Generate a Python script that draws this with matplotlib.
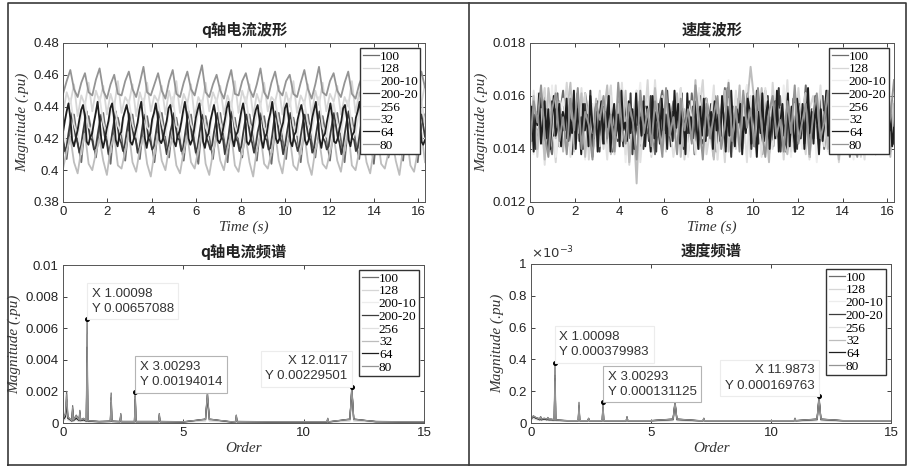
import numpy as np
import matplotlib
matplotlib.use("Agg")
import matplotlib.pyplot as plt
from matplotlib.lines import Line2D

plt.rcParams["font.family"] = ["Liberation Sans", "Noto Sans CJK SC"]

# legend order = plotting order
wave_labels = ["100", "128", "200-10", "200-20", "256", "32", "64", "80"]
wave_colors = ["#6c6c6c", "#d6d6d6", "#ededed", "#3c3c3c", "#e0e0e0", "#bdbdbd", "#1e1e1e", "#949494"]

wave_t_end = 16.3  # seconds

# q-axis current waveform, units of 1e-3 pu
iq_wave = [
    [420, 407, 428, 435, 418, 405, 429, 434, 421, 408, 427, 436, 419, 404, 430, 433, 422, 406, 428, 435,
     418, 407, 429, 434, 420, 405, 427, 436, 421, 408, 430, 433, 419, 406, 428, 435, 417, 404, 429, 434,
     422, 407, 427, 436, 420, 405, 430, 433, 418, 408, 428, 435, 421, 406, 429, 434, 419, 404, 427, 436,
     420, 407, 430, 433, 422, 405, 428, 435, 418, 408, 429, 434, 421, 406, 427, 436, 419, 405, 430, 433,
     418, 407, 428, 435, 420, 404, 429, 434, 422, 408, 427, 436, 419, 406, 430, 433, 421, 405, 428, 435],
    [436, 449, 442, 454, 434, 447, 441, 455, 437, 450, 443, 453, 435, 448, 440, 456, 436, 446, 442, 454,
     434, 449, 441, 455, 437, 447, 443, 453, 435, 450, 440, 456, 436, 448, 442, 454, 433, 446, 441, 455,
     437, 449, 443, 453, 435, 447, 440, 456, 436, 450, 442, 454, 434, 448, 441, 455, 437, 446, 443, 453,
     435, 449, 440, 456, 436, 447, 442, 454, 434, 450, 441, 455, 437, 448, 443, 453, 435, 446, 440, 456,
     436, 449, 442, 454, 434, 447, 441, 455, 437, 450, 443, 453, 435, 448, 440, 456, 436, 446, 442, 454],
    [428, 413, 436, 421, 426, 410, 438, 419, 429, 414, 435, 422, 427, 411, 439, 420, 430, 412, 437, 418,
     426, 414, 436, 421, 428, 410, 438, 419, 427, 413, 435, 422, 429, 411, 439, 420, 425, 412, 437, 418,
     430, 413, 436, 421, 426, 414, 438, 419, 428, 410, 435, 422, 427, 412, 439, 420, 429, 411, 437, 418,
     427, 414, 436, 421, 430, 410, 438, 419, 426, 413, 435, 422, 428, 411, 439, 420, 429, 412, 437, 418,
     426, 413, 436, 421, 428, 414, 438, 419, 430, 410, 435, 422, 427, 412, 439, 420, 428, 411, 437, 418],
    [418, 412, 415, 423, 430, 436, 428, 421, 417, 411, 416, 424, 431, 437, 427, 420, 419, 413, 414, 422,
     429, 435, 429, 421, 418, 410, 415, 423, 430, 437, 428, 420, 417, 412, 416, 424, 431, 436, 427, 421,
     419, 411, 414, 422, 430, 435, 429, 420, 418, 413, 415, 423, 431, 437, 428, 421, 417, 410, 416, 424,
     429, 436, 427, 420, 419, 412, 414, 422, 430, 437, 429, 421, 418, 411, 415, 423, 431, 435, 428, 420,
     417, 413, 416, 424, 430, 436, 427, 421, 419, 410, 414, 422, 431, 437, 429, 420, 418, 412, 415, 423,
     430, 435, 428, 421, 417, 411, 416, 424, 429, 436, 427, 420, 419, 413, 414, 422, 431, 437, 429, 421,
     418, 410, 415, 423, 430, 436, 428, 420, 417, 412, 416, 424, 431, 435, 427, 421, 419, 411, 414, 422,
     429, 437, 429, 420, 418, 413, 415, 423, 430, 436, 428, 421, 417, 410, 416, 424, 431, 437, 427, 420,
     419, 412, 414, 422, 430, 435, 429, 421, 418, 411, 415, 423, 431, 436, 428, 420, 417, 413, 416, 424,
     429, 437, 427, 421, 419, 410, 414, 422, 430, 436, 429, 420, 418, 412, 415, 423, 431, 435, 428, 421],
    [424, 437, 445, 429, 421, 435, 443, 427, 425, 438, 446, 430, 422, 436, 442, 428, 423, 439, 444, 429,
     421, 437, 445, 427, 424, 435, 443, 430, 422, 438, 446, 428, 425, 436, 442, 429, 423, 437, 444, 427,
     422, 439, 445, 430, 424, 436, 443, 428, 421, 437, 446, 429, 425, 435, 442, 427, 423, 438, 444, 430,
     424, 436, 445, 428, 422, 439, 443, 429, 425, 437, 446, 427, 421, 435, 442, 430, 424, 438, 444, 428,
     423, 437, 445, 429, 421, 436, 443, 427, 424, 438, 446, 430, 422, 435, 442, 428, 425, 439, 444, 429],
    [401, 412, 421, 405, 398, 413, 423, 404, 400, 411, 420, 406, 397, 414, 422, 403, 401, 412, 424, 405,
     399, 413, 421, 404, 396, 411, 423, 406, 400, 414, 420, 403, 398, 412, 422, 405, 401, 413, 425, 404,
     397, 411, 421, 406, 400, 414, 423, 403, 399, 412, 420, 405, 396, 413, 422, 404, 401, 411, 424, 406,
     398, 414, 421, 403, 400, 412, 423, 405, 397, 413, 420, 404, 401, 411, 422, 406, 399, 414, 425, 403,
     400, 412, 421, 405, 398, 413, 423, 404, 401, 411, 420, 406, 397, 414, 422, 403, 399, 412, 424, 405],
    [424, 431, 437, 442, 433, 419, 415, 420, 425, 432, 438, 441, 434, 418, 416, 421, 423, 430, 436, 443,
     432, 420, 414, 419, 426, 431, 439, 442, 433, 419, 415, 422, 424, 433, 437, 441, 435, 418, 416, 420,
     425, 430, 438, 443, 432, 420, 414, 421, 423, 432, 436, 442, 434, 419, 417, 420, 426, 431, 439, 441,
     433, 418, 415, 422, 424, 430, 437, 443, 435, 420, 416, 419, 425, 433, 438, 442, 432, 418, 414, 421,
     423, 431, 436, 441, 434, 419, 417, 420, 426, 432, 439, 443, 433, 420, 415, 422, 424, 430, 437, 442,
     435, 418, 416, 419, 425, 433, 438, 441, 432, 419, 414, 421, 423, 431, 436, 443, 434, 420, 417, 420,
     426, 430, 439, 442, 433, 418, 415, 422, 424, 432, 437, 441, 435, 419, 416, 419, 425, 433, 438, 443,
     432, 420, 414, 421, 423, 430, 436, 442, 434, 418, 417, 420, 426, 431, 439, 441, 433, 419, 415, 422,
     424, 433, 437, 443, 435, 420, 416, 419, 425, 430, 438, 442, 432, 418, 414, 421, 423, 432, 436, 441,
     434, 419, 417, 420, 426, 431, 439, 443, 433, 420, 415, 422, 424, 430, 437, 442, 435, 418, 416, 419],
    [448, 456, 463, 451, 446, 455, 461, 449, 447, 457, 464, 450, 445, 454, 460, 448, 447, 456, 462, 451,
     446, 455, 465, 449, 447, 454, 461, 450, 445, 456, 463, 448, 446, 455, 462, 451, 447, 457, 466, 449,
     446, 454, 460, 450, 445, 455, 463, 448, 447, 456, 461, 451, 446, 454, 464, 449, 445, 455, 462, 450,
     447, 456, 460, 448, 446, 455, 463, 451, 445, 454, 465, 449, 447, 456, 461, 450, 446, 455, 462, 448,
     445, 454, 460, 451, 447, 456, 463, 449, 446, 455, 461, 450, 445, 457, 464, 448, 446, 455, 462, 452],
]

# speed waveform, units of 1e-4 pu
speed_wave = [
    [149, 157, 141, 153, 160, 144, 138, 155, 151, 162, 146, 140, 158, 148, 143, 161, 152, 137, 156, 147,
     154, 142, 159, 145, 150, 163, 139, 153, 148, 157, 141, 160, 146, 152, 138, 155, 162, 144, 149, 158,
     143, 156, 151, 139, 161, 147, 154, 142, 159, 150, 137, 157, 145, 163, 148, 140, 153, 160, 146, 151,
     158, 141, 155, 149, 162, 138, 152, 145, 160, 143, 156, 150, 139, 157, 147, 164, 142, 154, 148, 159,
     140, 153, 146, 161, 151, 144, 158, 137, 155, 149, 162, 143, 150, 156, 141, 159, 147, 153, 139, 156],
    [146, 160, 137, 155, 163, 141, 152, 135, 158, 149, 165, 143, 139, 157, 150, 161, 136, 154, 147, 162,
     140, 156, 164, 138, 151, 145, 159, 134, 153, 162, 142, 148, 166, 137, 155, 150, 160, 139, 157, 144,
     152, 163, 136, 149, 158, 141, 155, 166, 138, 147, 160, 143, 153, 135, 162, 151, 140, 157, 146, 164,
     137, 154, 161, 145, 150, 139, 165, 148, 156, 136, 159, 152, 142, 163, 147, 138, 155, 160, 144, 151,
     158, 140, 153, 164, 135, 149, 157, 143, 161, 150, 137, 156, 145, 162, 139, 153, 148, 166, 141, 155],
    [150, 138, 161, 145, 156, 142, 164, 137, 153, 159, 140, 148, 162, 144, 155, 136, 158, 151, 141, 160,
     147, 163, 139, 154, 149, 160, 135, 157, 144, 152, 165, 141, 150, 138, 159, 146, 156, 162, 143, 153,
     161, 142, 155, 137, 158, 148, 163, 140, 151, 145, 160, 136, 154, 149, 166, 139, 157, 143, 152, 164,
     144, 157, 150, 162, 138, 153, 146, 159, 141, 164, 149, 137, 156, 152, 140, 161, 147, 155, 135, 158,
     155, 139, 160, 147, 151, 165, 142, 154, 136, 158, 145, 162, 149, 138, 156, 143, 161, 150, 140, 153],
    [151, 143, 157, 140, 154, 148, 160, 142, 146, 155, 139, 152, 158, 145, 149, 161, 141, 153, 147, 156,
     144, 159, 150, 138, 155, 147, 161, 143, 152, 140, 157, 149, 145, 162, 141, 154, 148, 158, 139, 151,
     156, 142, 153, 160, 146, 139, 155, 150, 143, 159, 148, 141, 157, 152, 144, 161, 138, 154, 149, 145,
     158, 147, 140, 156, 151, 143, 160, 145, 153, 139, 157, 149, 142, 155, 146, 162, 150, 141, 154, 148,
     143, 155, 149, 161, 140, 152, 146, 158, 144, 156, 138, 153, 150, 160, 142, 147, 159, 145, 151, 157,
     147, 160, 139, 154, 145, 158, 151, 141, 163, 148, 137, 156, 143, 152, 159, 146, 140, 155, 149, 161,
     153, 140, 157, 146, 162, 142, 150, 138, 155, 149, 160, 144, 152, 141, 158, 147, 163, 139, 154, 145,
     139, 156, 148, 143, 159, 151, 140, 157, 146, 154, 142, 161, 149, 137, 155, 144, 160, 152, 141, 158,
     160, 145, 153, 141, 156, 139, 158, 147, 150, 162, 143, 155, 140, 153, 148, 157, 144, 161, 138, 151,
     146, 159, 142, 155, 140, 161, 149, 144, 157, 138, 152, 156, 145, 160, 141, 150, 163, 147, 154, 142],
    [139, 162, 148, 155, 134, 158, 145, 164, 141, 152, 160, 137, 156, 146, 163, 140, 150, 157, 143, 161,
     153, 136, 160, 149, 144, 165, 138, 155, 147, 162, 135, 151, 158, 142, 166, 145, 139, 156, 150, 137,
     146, 163, 141, 157, 152, 138, 161, 144, 155, 149, 164, 136, 153, 140, 159, 147, 162, 143, 156, 135,
     160, 142, 154, 137, 163, 148, 140, 158, 151, 145, 166, 139, 157, 143, 152, 161, 136, 155, 149, 164,
     141, 157, 145, 162, 138, 154, 150, 165, 143, 159, 147, 136, 160, 152, 140, 156, 144, 163, 148, 158],
    [148, 160, 140, 155, 136, 163, 151, 144, 158, 139, 153, 165, 142, 149, 161, 137, 156, 146, 159, 141,
     152, 164, 138, 147, 157, 143, 162, 135, 154, 127, 160, 145, 150, 139, 163, 148, 141, 158, 153, 144,
     161, 137, 155, 149, 143, 166, 140, 152, 159, 146, 136, 157, 150, 162, 139, 154, 145, 164, 142, 156,
     171, 158, 147, 163, 151, 135, 160, 144, 155, 142, 138, 149, 140, 157, 146, 161, 137, 153, 159, 143,
     154, 140, 162, 148, 136, 159, 145, 165, 141, 152, 158, 139, 163, 147, 155, 143, 160, 150, 137, 157],
    [146, 156, 139, 153, 149, 161, 142, 150, 158, 144, 155, 140, 152, 160, 145, 148, 157, 141, 154, 147,
     159, 143, 151, 146, 162, 140, 155, 149, 138, 157, 147, 153, 141, 160, 150, 144, 156, 139, 152, 158,
     142, 154, 148, 160, 139, 151, 157, 145, 153, 141, 162, 147, 150, 143, 158, 146, 155, 140, 161, 149,
     152, 145, 158, 141, 156, 148, 139, 160, 144, 154, 150, 142, 159, 147, 153, 140, 157, 151, 143, 162,
     148, 157, 142, 155, 150, 138, 161, 146, 152, 144, 158, 149, 140, 156, 145, 159, 143, 153, 147, 154,
     140, 158, 147, 153, 143, 160, 151, 139, 156, 145, 162, 148, 141, 155, 150, 157, 138, 152, 146, 159,
     155, 142, 160, 148, 137, 154, 146, 161, 143, 152, 158, 140, 149, 156, 144, 162, 139, 151, 157, 145,
     150, 161, 141, 156, 147, 139, 159, 153, 144, 157, 140, 151, 163, 146, 154, 142, 158, 149, 138, 155,
     143, 152, 162, 145, 158, 141, 150, 156, 139, 160, 148, 154, 142, 157, 146, 161, 140, 153, 149, 158,
     157, 144, 151, 139, 161, 149, 143, 155, 152, 140, 159, 146, 156, 142, 150, 162, 145, 153, 141, 148],
    [141, 158, 150, 164, 145, 137, 155, 161, 143, 152, 138, 159, 147, 163, 140, 154, 149, 136, 157, 151,
     160, 144, 153, 139, 165, 148, 142, 157, 150, 136, 162, 146, 155, 141, 158, 149, 137, 163, 145, 152,
     138, 159, 147, 155, 142, 164, 151, 136, 157, 144, 153, 160, 140, 149, 165, 143, 156, 139, 162, 148,
     155, 141, 163, 148, 137, 154, 160, 145, 151, 139, 158, 146, 164, 142, 150, 157, 138, 153, 161, 144,
     150, 162, 139, 156, 146, 153, 141, 160, 148, 137, 155, 164, 143, 151, 158, 140, 157, 145, 152, 166],
]

# spectrum order axis shared by both spectra
spec_order = [0, 0.1, 0.15, 0.2, 0.3, 0.37, 0.4, 0.43, 0.55, 0.67,
              0.7, 0.73, 0.85, 0.97, 1.0, 1.03, 1.5, 1.97, 2.0, 2.03,
              2.37, 2.4, 2.43, 2.7, 2.97, 3.0, 3.03, 3.5, 3.97, 4.0,
              4.03, 5.0, 5.92, 6.0, 6.08, 7.0, 7.17, 7.2, 7.23, 8.5,
              10.0, 10.97, 11.0, 11.03, 11.92, 12.0, 12.08, 13.0, 14.0, 15.0]

# q-axis current spectrum, units of 1e-5 pu
iq_spec = [
    [30, 60, 200, 40, 25, 15, 110, 20, 50, 20, 80, 20, 30, 15, 657, 15, 10, 12, 190, 12,
     10, 60, 10, 10, 10, 194, 10, 10, 10, 60, 10, 8, 20, 195, 20, 8, 10, 50, 10, 8,
     8, 8, 30, 8, 20, 229, 20, 10, 8, 8],
    [15, 30, 90, 20, 15, 10, 50, 12, 20, 10, 40, 10, 15, 8, 300, 8, 6, 8, 110, 8,
     6, 30, 6, 6, 6, 120, 6, 6, 6, 30, 6, 5, 15, 140, 15, 5, 6, 25, 6, 5,
     5, 5, 15, 5, 15, 180, 15, 6, 5, 5],
    [18, 35, 100, 25, 18, 10, 55, 12, 25, 12, 45, 12, 18, 10, 350, 10, 7, 8, 120, 8,
     7, 35, 7, 7, 7, 130, 7, 7, 7, 35, 7, 6, 18, 150, 18, 6, 7, 30, 7, 6,
     6, 6, 18, 6, 18, 190, 18, 7, 6, 6],
    [25, 50, 150, 35, 22, 14, 90, 18, 40, 18, 70, 18, 25, 14, 420, 14, 9, 11, 160, 11,
     9, 50, 9, 9, 9, 170, 9, 9, 9, 50, 9, 7, 22, 175, 22, 7, 9, 45, 9, 7,
     7, 7, 25, 7, 22, 215, 22, 9, 7, 7],
    [12, 25, 70, 18, 12, 8, 40, 10, 18, 8, 30, 8, 12, 7, 250, 7, 5, 7, 90, 7,
     5, 25, 5, 5, 5, 100, 5, 5, 5, 25, 5, 4, 12, 120, 12, 4, 5, 20, 5, 4,
     4, 4, 12, 4, 12, 160, 12, 5, 4, 4],
    [22, 45, 130, 30, 20, 12, 70, 15, 35, 15, 55, 15, 22, 12, 380, 12, 8, 10, 140, 10,
     8, 45, 8, 8, 8, 160, 8, 8, 8, 45, 8, 7, 20, 165, 20, 7, 8, 40, 8, 7,
     7, 7, 22, 7, 20, 200, 20, 8, 7, 7],
    [20, 40, 120, 30, 20, 12, 80, 15, 30, 15, 60, 15, 20, 12, 480, 12, 8, 10, 130, 10,
     8, 40, 8, 8, 8, 150, 8, 8, 8, 40, 8, 6, 25, 160, 25, 6, 8, 35, 8, 6,
     6, 6, 20, 6, 25, 205, 25, 8, 6, 6],
    [28, 55, 180, 38, 24, 14, 100, 18, 45, 18, 75, 18, 28, 14, 560, 14, 9, 11, 175, 11,
     9, 55, 9, 9, 9, 185, 9, 9, 9, 55, 9, 8, 24, 185, 24, 8, 9, 48, 9, 8,
     8, 8, 28, 8, 24, 220, 24, 9, 8, 8],
]

# speed spectrum, units of 1e-6 pu
speed_spec = [
    [30, 45, 40, 35, 30, 25, 40, 25, 30, 25, 35, 25, 25, 20, 380, 20, 15, 15, 130, 15,
     15, 30, 15, 15, 15, 131, 15, 15, 15, 40, 15, 15, 25, 135, 25, 15, 15, 30, 15, 15,
     15, 15, 30, 15, 25, 170, 25, 15, 15, 15],
    [20, 30, 28, 24, 20, 16, 28, 16, 20, 16, 24, 16, 16, 14, 200, 14, 11, 11, 80, 11,
     11, 20, 11, 11, 11, 85, 11, 11, 11, 26, 11, 11, 16, 95, 16, 11, 11, 20, 11, 11,
     11, 11, 20, 11, 16, 120, 16, 11, 11, 11],
    [22, 34, 30, 26, 22, 18, 30, 18, 22, 18, 26, 18, 18, 15, 230, 15, 12, 12, 90, 12,
     12, 22, 12, 12, 12, 90, 12, 12, 12, 28, 12, 12, 18, 105, 18, 12, 12, 22, 12, 12,
     12, 12, 22, 12, 18, 130, 18, 12, 12, 12],
    [28, 42, 38, 32, 28, 22, 38, 22, 28, 22, 32, 22, 22, 18, 300, 18, 14, 14, 110, 14,
     14, 28, 14, 14, 14, 115, 14, 14, 14, 36, 14, 14, 24, 125, 24, 14, 14, 28, 14, 14,
     14, 14, 28, 14, 24, 155, 24, 14, 14, 14],
    [18, 28, 25, 22, 18, 15, 25, 15, 18, 15, 22, 15, 15, 12, 180, 12, 10, 10, 70, 10,
     10, 18, 10, 10, 10, 75, 10, 10, 10, 24, 10, 10, 15, 85, 15, 10, 10, 18, 10, 10,
     10, 10, 18, 10, 15, 110, 15, 10, 10, 10],
    [26, 38, 34, 30, 26, 20, 34, 20, 26, 20, 30, 20, 20, 17, 260, 17, 13, 13, 95, 13,
     13, 26, 13, 13, 13, 105, 13, 13, 13, 32, 13, 13, 20, 115, 20, 13, 13, 26, 13, 13,
     13, 13, 26, 13, 20, 140, 20, 13, 13, 13],
    [25, 40, 35, 30, 25, 20, 35, 20, 25, 20, 30, 20, 20, 18, 280, 18, 14, 14, 100, 14,
     14, 25, 14, 14, 14, 100, 14, 14, 14, 35, 14, 14, 22, 120, 22, 14, 14, 25, 14, 14,
     14, 14, 25, 14, 22, 150, 22, 14, 14, 14],
    [29, 44, 39, 34, 29, 24, 39, 24, 29, 24, 34, 24, 24, 19, 340, 19, 15, 15, 120, 15,
     15, 29, 15, 15, 15, 122, 15, 15, 15, 38, 15, 15, 24, 130, 24, 15, 15, 29, 15, 15,
     15, 15, 29, 15, 24, 160, 24, 15, 15, 15],
]

# data cursor tips
iq_tip_x = [1.00098, 3.00293, 12.0117]
iq_tip_y = [0.00657088, 0.00194014, 0.00229501]
speed_tip_x = [1.00098, 3.00293, 11.9873]
speed_tip_y = [0.000379983, 0.000131125, 0.000169763]
tip_side = [1, 1, -1]
tip_edge = ["#ececec", "#b4b4b4", "#ececec"]

SERIF = "Liberation Serif"
CJK = "Noto Sans CJK SC"


def style_axes(ax, title, xlabel):
    ax.set_title(title, family=[CJK], fontweight="bold", fontsize=11, color="#222222", pad=6)
    ax.set_xlabel(xlabel, family=SERIF, style="italic", fontsize=11, color="#333333", labelpad=2)
    ax.set_ylabel("Magnitude (.pu)", family=SERIF, style="italic", fontsize=11, color="#333333", labelpad=3)
    ax.tick_params(direction="in", top=True, right=True, length=3, width=0.6,
                   labelsize=9.5, colors="#222222", pad=3)
    for spine in ax.spines.values():
        spine.set_color("#555555")
        spine.set_linewidth(0.7)
    handles = [Line2D([], [], color=c, lw=0.9) for c in wave_colors]
    ax.legend(handles, wave_labels, loc="upper right", prop={"family": SERIF, "size": 9.6},
              frameon=True, fancybox=False, edgecolor="#333333", framealpha=1,
              handlelength=1.25, handletextpad=0.05, borderpad=0.2, labelspacing=0.03,
              borderaxespad=0.35)


def add_tips(ax, xs, ys, texts):
    for x, y, text, side, edge in zip(xs, ys, texts, tip_side, tip_edge):
        ax.plot([x], [y], "o", ms=2.6, color="black", zorder=6)
        ax.annotate(text, (x, y), xytext=(3.2 * side, 3.2), textcoords="offset points",
                    ha="left" if side > 0 else "right", va="bottom", fontsize=9.5,
                    color="#333333", linespacing=1.35, zorder=7,
                    bbox=dict(boxstyle="square,pad=0.35", fc="white", ec=edge, lw=0.8))


fig = plt.figure(figsize=(9.16, 4.67), dpi=100)
ax_iq = fig.add_axes([0.0688, 0.5675, 0.3952, 0.3405])
ax_sp = fig.add_axes([0.5786, 0.5675, 0.3974, 0.3405])
ax_iqf = fig.add_axes([0.0688, 0.0942, 0.3941, 0.3383])
ax_spf = fig.add_axes([0.5797, 0.0942, 0.3930, 0.3405])

for label, color, vals in zip(wave_labels, wave_colors, iq_wave):
    t = np.linspace(0, wave_t_end, len(vals))
    ax_iq.plot(t, np.array(vals) * 1e-3, color=color, lw=1.3, label=label)
ax_iq.set_xlim(0, wave_t_end)
ax_iq.set_ylim(0.38, 0.48)
ax_iq.set_xticks(np.arange(0, 17, 2))
ax_iq.set_yticks([0.38, 0.40, 0.42, 0.44, 0.46, 0.48])
ax_iq.set_yticklabels(["0.38", "0.4", "0.42", "0.44", "0.46", "0.48"])
style_axes(ax_iq, "q轴电流波形", "Time (s)")

for label, color, vals in zip(wave_labels, wave_colors, speed_wave):
    t = np.linspace(0, wave_t_end, len(vals))
    ax_sp.plot(t, np.array(vals) * 1e-4, color=color, lw=1.4, label=label)
ax_sp.set_xlim(0, wave_t_end)
ax_sp.set_ylim(0.012, 0.018)
ax_sp.set_xticks(np.arange(0, 17, 2))
ax_sp.set_yticks([0.012, 0.014, 0.016, 0.018])
ax_sp.set_yticklabels(["0.012", "0.014", "0.016", "0.018"])
style_axes(ax_sp, "速度波形", "Time (s)")

for label, color, vals in zip(wave_labels, wave_colors, iq_spec):
    ax_iqf.plot(spec_order, np.array(vals) * 1e-5, color=color, lw=0.9, label=label)
ax_iqf.set_xlim(0, 15)
ax_iqf.set_ylim(0, 0.01)
ax_iqf.set_xticks([0, 5, 10, 15])
ax_iqf.set_yticks([0, 0.002, 0.004, 0.006, 0.008, 0.01])
ax_iqf.set_yticklabels(["0", "0.002", "0.004", "0.006", "0.008", "0.01"])
style_axes(ax_iqf, "q轴电流频谱", "Order")
add_tips(ax_iqf, iq_tip_x, iq_tip_y,
         [f"X {x:g}\nY {y:.9g}" for x, y in zip(iq_tip_x, iq_tip_y)])

for label, color, vals in zip(wave_labels, wave_colors, speed_spec):
    ax_spf.plot(spec_order, np.array(vals) * 1e-6, color=color, lw=0.9, label=label)
ax_spf.set_xlim(0, 15)
ax_spf.set_ylim(0, 0.001)
ax_spf.set_xticks([0, 5, 10, 15])
ax_spf.set_yticks([0, 0.0002, 0.0004, 0.0006, 0.0008, 0.001])
ax_spf.set_yticklabels(["0", "0.2", "0.4", "0.6", "0.8", "1"])
ax_spf.text(0.0, 1.015, r"$\times10^{-3}$", transform=ax_spf.transAxes, fontsize=9.5,
            color="#333333", ha="left", va="bottom")
style_axes(ax_spf, "速度频谱", "Order")
add_tips(ax_spf, speed_tip_x, speed_tip_y,
         [f"X {x:g}\nY {y:.9g}" for x, y in zip(speed_tip_x, speed_tip_y)])

# outer frame and divider
frame = dict(color="#3a3a3a", lw=1.2, transform=fig.transFigure)
fig.add_artist(Line2D([0.0087, 0.989, 0.989, 0.0087, 0.0087], [0.004, 0.004, 0.9936, 0.9936, 0.004], **frame))
fig.add_artist(Line2D([0.512, 0.512], [0.004, 0.9936], **frame))

fig.savefig("out.png", dpi=100, facecolor="white")
